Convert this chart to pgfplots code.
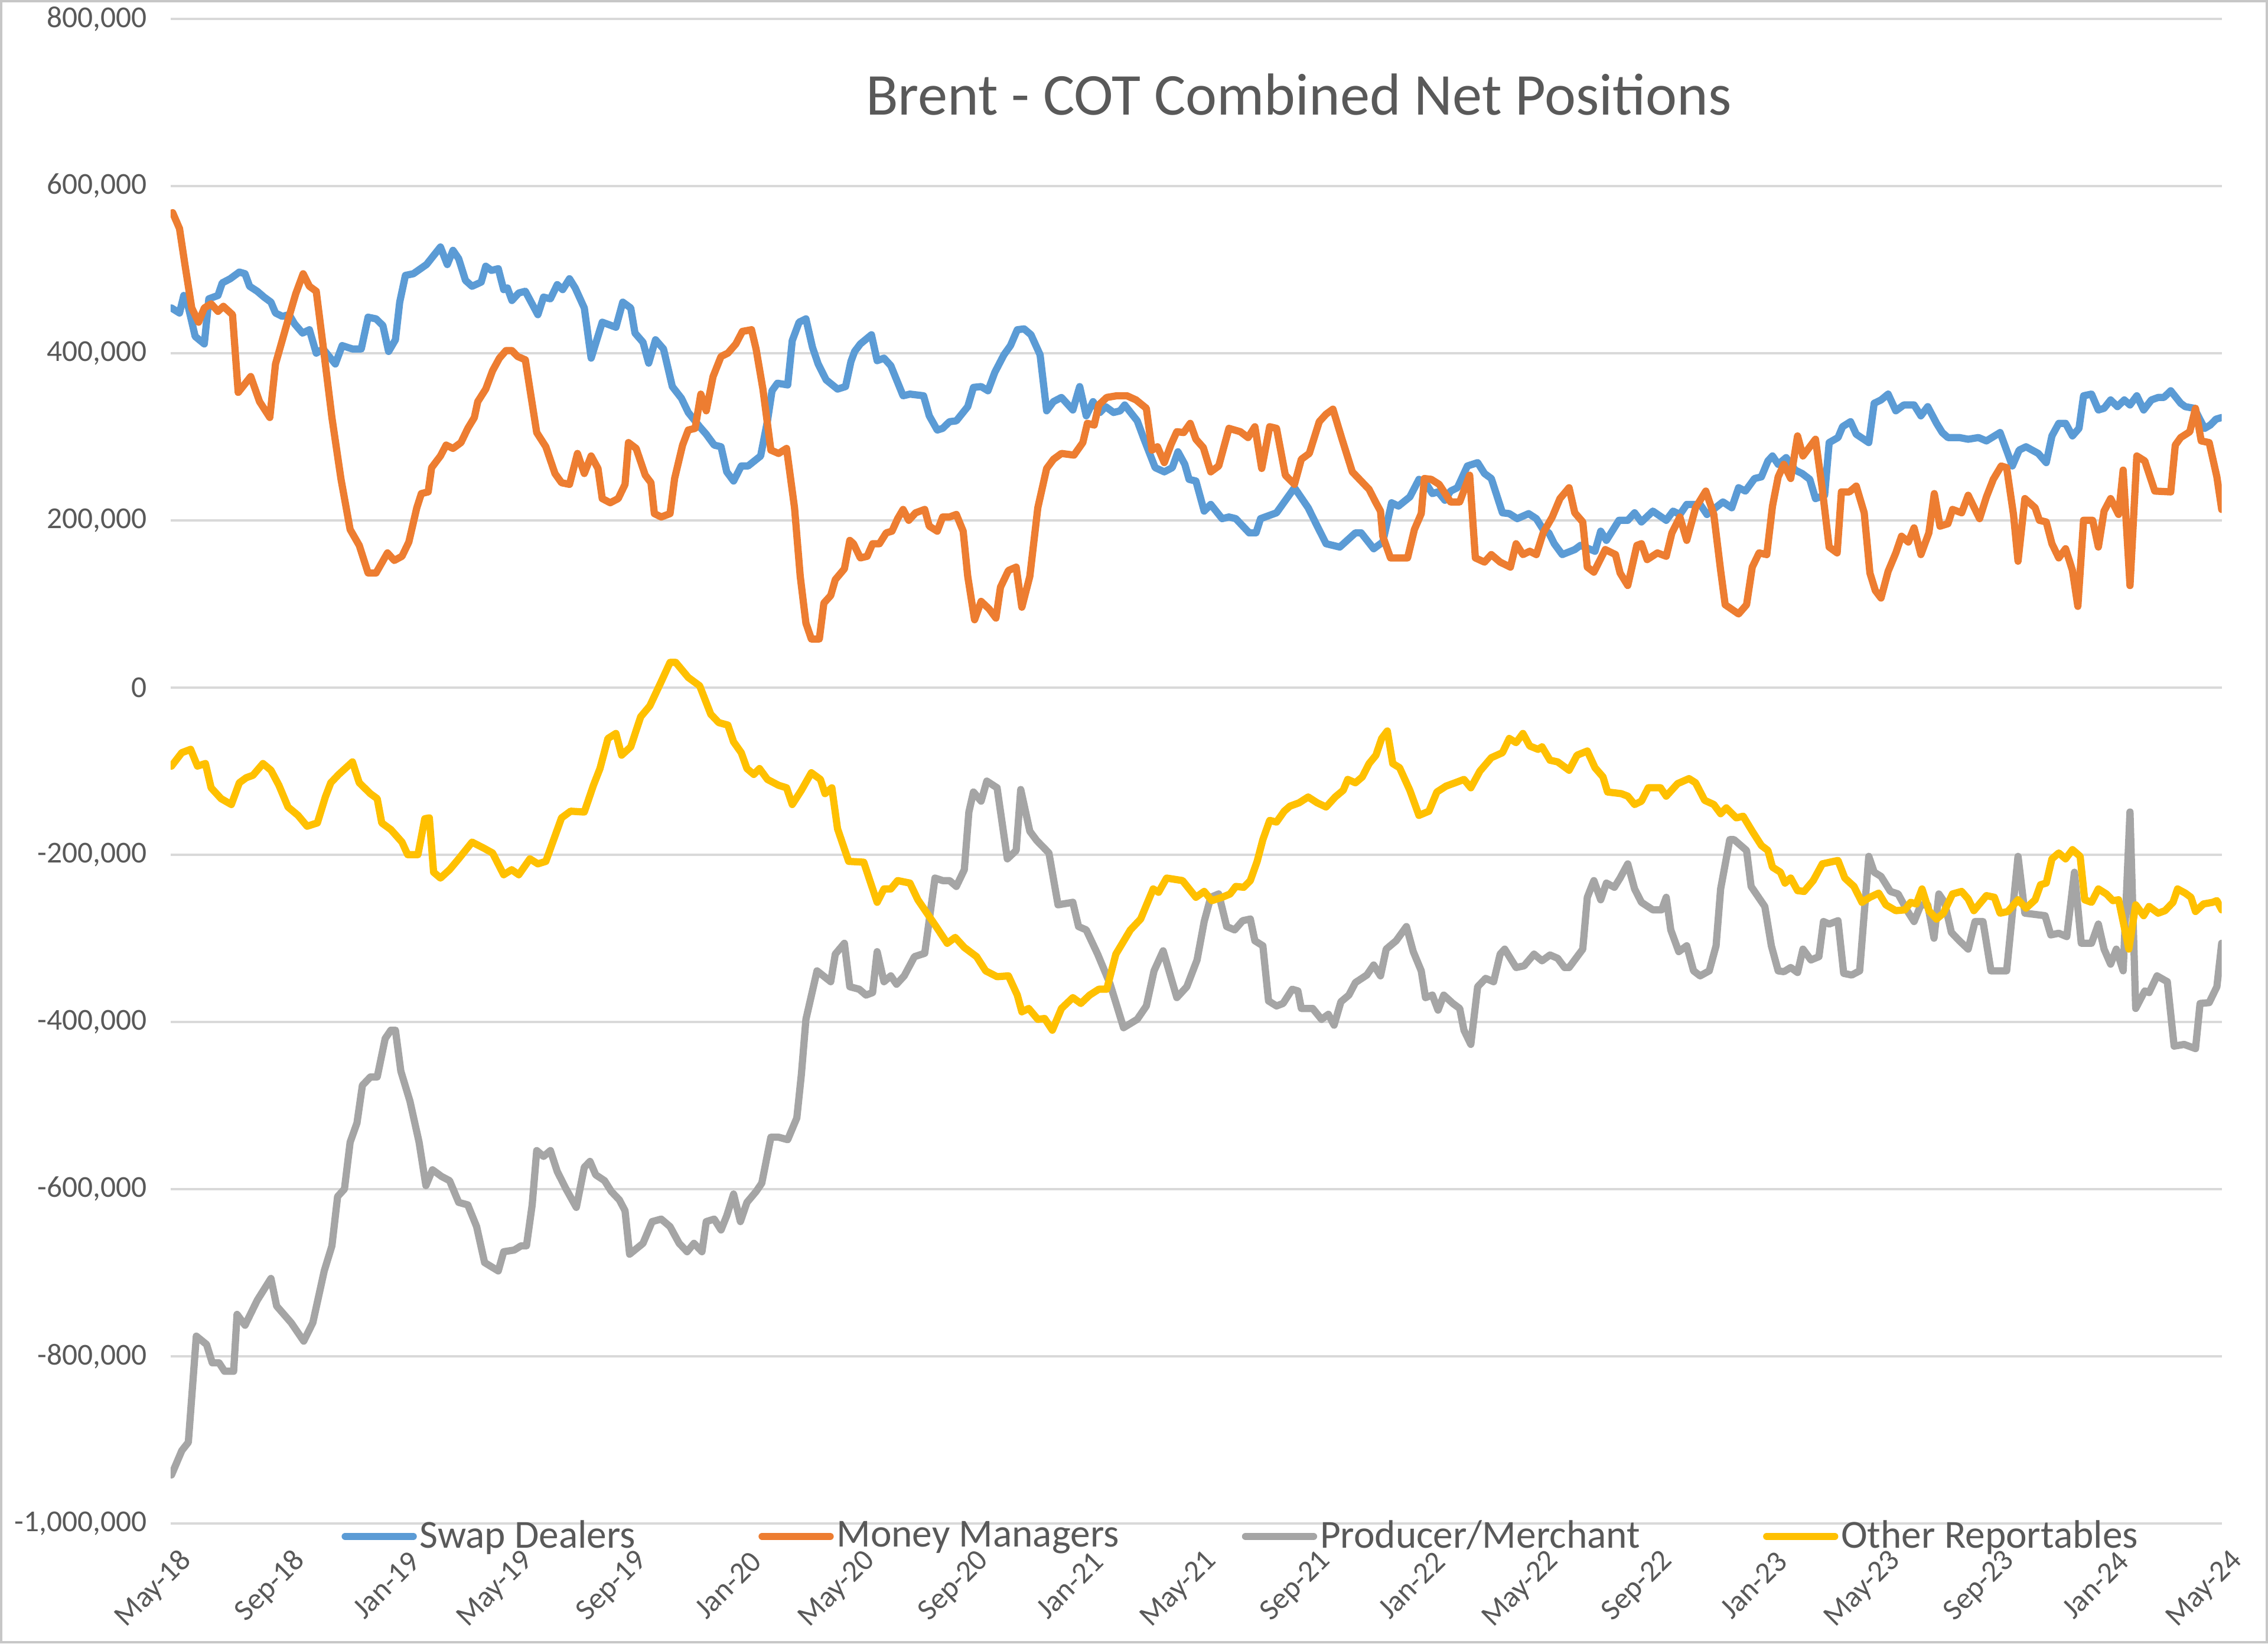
\documentclass[border=0pt]{standalone}
\usepackage{fontspec}
\setmainfont{Carlito}
\usepackage{pgfplots}
\pgfplotsset{compat=1.18}
\definecolor{swapc}{HTML}{5B9BD5}
\definecolor{mmc}{HTML}{ED7D31}
\definecolor{pmc}{HTML}{A5A5A5}
\definecolor{orc}{HTML}{FFC000}
\definecolor{txt}{HTML}{595959}
\definecolor{gridc}{HTML}{D9D9D9}
\begin{document}
\begin{tikzpicture}
\begin{axis}[
  at={(0,0)}, anchor=south west,
  scale only axis, width=709pt, height=520pt,
  xmin=0, xmax=72, ymin=-1000, ymax=800,
  axis line style={draw=none},
  tick style={draw=none}, major tick length=0pt,
  xtick={0,4,...,72},
  xticklabels={May-18,Sep-18,Jan-19,May-19,Sep-19,Jan-20,May-20,Sep-20,Jan-21,May-21,Sep-21,Jan-22,May-22,Sep-22,Jan-23,May-23,Sep-23,Jan-24,May-24},
  ytick={-1000,-800,...,800},
  yticklabels={{-1,000,000},{-800,000},{-600,000},{-400,000},{-200,000},{0},{200,000},{400,000},{600,000},{800,000}},
  ymajorgrids, major grid style={draw=gridc, line width=0.9pt},
  yticklabel style={font=\fontsize{10.5}{12}\selectfont, text=txt, anchor=east, inner sep=0pt, xshift=-8pt},
  xticklabel style={font=\fontsize{10.5}{12}\selectfont, text=txt, rotate=45, anchor=east, inner sep=0pt, yshift=-12pt, xshift=-4pt},
  title={Brent - COT Combined Net Positions},
  title style={at={(0.55,0.938)}, anchor=center, font=\fontsize{20.5}{24}\selectfont, text=txt},
  legend style={at={(0.522,0)}, anchor=center, yshift=-4.5pt, legend columns=4, draw=none, fill=none,
    font=\fontsize{13.75}{16}\selectfont, text=txt,
    /tikz/every even column/.append style={column sep=41.5pt}, nodes={inner sep=1pt}},
  legend image code/.code={\draw[#1, line width=2.5pt] (0pt,0pt) -- (23.5pt,0pt);},
  every axis plot/.append style={line width=2.5pt, line join=round, line cap=round, no markers},
]
\addplot[swapc] coordinates {
(0.03,454) (0.31,448) (0.46,469) (0.58,461) (0.86,420) (1.18,411) (1.34,465) (1.66,469) (1.81,484) (2.09,489)
(2.41,497) (2.61,495) (2.77,480) (3.04,474) (3.28,467) (3.52,461) (3.68,448) (3.92,444) (4.16,446) (4.35,435)
(4.63,424) (4.87,428) (5.11,400) (5.35,405) (5.78,387) (6.02,409) (6.38,405) (6.69,405) (6.93,443) (7.21,441)
(7.45,433) (7.65,402) (7.89,416) (8.04,461) (8.24,493) (8.52,495) (8.98,506) (9.47,527) (9.71,506) (9.91,523)
(10.11,513) (10.35,487) (10.58,480) (10.90,485) (11.06,504) (11.26,499) (11.50,501) (11.69,476) (11.82,478) (11.98,463)
(12.22,472) (12.45,474) (12.89,446) (13.09,467) (13.33,465) (13.57,482) (13.76,476) (14.00,489) (14.20,478) (14.52,454)
(14.76,394) (15.15,437) (15.63,431) (15.87,461) (16.15,454) (16.30,424) (16.58,413) (16.78,388) (17.02,416) (17.30,405)
(17.61,360) (17.93,346) (18.17,329) (18.57,312) (18.80,303) (19.08,290) (19.32,288) (19.52,258) (19.76,247) (20.03,265)
(20.27,265) (20.71,277) (20.95,319) (21.11,355) (21.30,364) (21.66,362) (21.82,415) (22.06,437) (22.30,441) (22.53,407)
(22.73,387) (23.01,368) (23.41,357) (23.69,360) (23.88,390) (24.01,402) (24.21,411) (24.60,422) (24.80,391) (25.04,394)
(25.28,385) (25.71,349) (25.95,351) (26.43,349) (26.63,325) (26.91,308) (27.10,310) (27.34,318) (27.58,319) (27.98,336)
(28.18,359) (28.45,360) (28.69,355) (28.93,377) (29.25,398) (29.48,409) (29.72,428) (29.96,429) (30.20,422) (30.52,398)
(30.75,331) (30.99,342) (31.27,347) (31.67,332) (31.91,360) (32.14,325) (32.38,342) (32.62,329) (32.82,336) (33.10,329)
(33.33,331) (33.49,338) (33.93,319) (34.17,297) (34.56,263) (34.88,258) (35.16,263) (35.36,282) (35.60,267) (35.75,249)
(35.99,247) (36.28,211) (36.51,219) (36.91,202) (37.15,204) (37.39,202) (37.86,185) (38.10,185) (38.26,202) (38.82,209)
(39.45,239) (39.93,215) (40.25,193) (40.56,172) (41.04,168) (41.59,185) (41.79,185) (42.23,166) (42.55,174) (42.86,221)
(43.10,217) (43.50,228) (43.82,249) (44.05,245) (44.29,232) (44.49,234) (44.73,224) (44.93,235) (45.17,239) (45.52,265)
(45.88,269) (46.12,256) (46.36,250) (46.75,209) (46.99,208) (47.27,202) (47.67,208) (47.94,202) (48.18,189) (48.38,185)
(48.57,172) (48.85,159) (49.29,165) (49.49,170) (50.00,163) (50.20,187) (50.40,176) (50.84,200) (51.15,200) (51.39,209)
(51.63,198) (52.03,211) (52.50,200) (52.74,211) (52.98,207) (53.22,219) (53.69,219) (53.93,207) (54.49,222) (54.80,215)
(55.04,239) (55.28,235) (55.60,250) (55.84,252) (56.07,271) (56.23,277) (56.43,267) (56.71,275) (57.03,260) (57.27,256)
(57.54,249) (57.74,226) (58.06,230) (58.22,293) (58.53,299) (58.69,312) (58.97,318) (59.17,303) (59.61,293) (59.80,340)
(60.04,344) (60.29,351) (60.56,331) (60.84,338) (61.20,338) (61.44,325) (61.68,336) (61.99,316) (62.19,305) (62.39,299)
(62.79,299) (63.10,297) (63.46,299) (63.74,295) (64.22,305) (64.65,265) (64.89,284) (65.13,288) (65.56,280) (65.84,269)
(66.04,301) (66.28,316) (66.52,316) (66.76,301) (66.99,310) (67.15,349) (67.43,351) (67.67,332) (67.87,334) (68.10,344)
(68.34,336) (68.58,344) (68.78,338) (69.02,349) (69.26,332) (69.53,344) (69.77,347) (69.97,347) (70.21,355) (70.56,340)
(70.72,336) (71.04,334) (71.20,323) (71.40,310) (71.60,314) (71.80,321) (72.00,323)
};
\addlegendentry{Swap Dealers}
\addplot[mmc] coordinates {
(0.07,568) (0.31,549) (0.50,506) (0.74,454) (0.98,437) (1.18,454) (1.42,459) (1.66,450) (1.85,456) (2.17,446)
(2.37,353) (2.81,372) (3.12,342) (3.48,323) (3.68,387) (4.08,435) (4.39,471) (4.65,495) (4.87,480) (5.11,474)
(5.35,409) (5.66,323) (5.98,249) (6.30,189) (6.62,170) (6.93,137) (7.21,137) (7.61,161) (7.85,152) (8.12,157)
(8.36,174) (8.64,215) (8.80,232) (9.04,234) (9.16,263) (9.47,277) (9.67,290) (9.91,286) (10.19,293) (10.43,310)
(10.66,323) (10.78,342) (11.06,357) (11.30,379) (11.54,394) (11.77,403) (11.98,403) (12.18,396) (12.45,392) (12.61,357)
(12.85,305) (13.17,288) (13.49,256) (13.72,245) (14.00,243) (14.28,280) (14.52,256) (14.76,277) (15.00,262) (15.15,226)
(15.43,221) (15.71,226) (15.95,243) (16.07,293) (16.34,286) (16.66,254) (16.86,245) (16.98,208) (17.22,204) (17.53,208)
(17.69,250) (17.97,290) (18.17,308) (18.41,310) (18.61,351) (18.80,331) (19.04,372) (19.32,396) (19.56,400) (19.84,411)
(20.07,426) (20.39,428) (20.55,405) (20.79,357) (21.07,284) (21.34,280) (21.62,286) (21.90,215) (22.10,133) (22.30,77)
(22.49,58) (22.77,58) (22.93,101) (23.17,110) (23.33,129) (23.65,142) (23.84,176) (23.97,172) (24.21,155) (24.45,157)
(24.64,172) (24.88,172) (25.12,185) (25.32,187) (25.52,202) (25.71,213) (25.91,200) (26.15,209) (26.47,213) (26.63,193)
(26.91,187) (27.10,204) (27.34,204) (27.58,207) (27.82,187) (27.98,133) (28.22,81) (28.45,103) (28.73,94) (28.97,83)
(29.13,120) (29.41,140) (29.68,144) (29.88,96) (30.16,133) (30.44,215) (30.75,262) (30.99,273) (31.27,280) (31.71,278)
(32.02,293) (32.18,316) (32.42,314) (32.58,338) (32.86,347) (33.21,349) (33.57,349) (33.89,344) (34.25,334) (34.45,284)
(34.64,288) (34.88,269) (35.12,291) (35.32,306) (35.56,305) (35.79,316) (35.99,297) (36.25,287) (36.51,258) (36.79,265)
(37.15,310) (37.55,306) (37.82,299) (38.06,312) (38.30,262) (38.58,312) (38.82,310) (39.13,254) (39.45,243) (39.69,273)
(39.97,280) (40.32,318) (40.56,327) (40.80,333) (41.12,297) (41.48,258) (42.07,237) (42.31,221) (42.47,211) (42.55,181)
(42.82,155) (43.42,155) (43.66,189) (43.90,208) (44.01,250) (44.25,249) (44.53,243) (44.93,222) (45.25,222) (45.60,254)
(45.80,155) (46.12,150) (46.36,159) (46.67,150) (47.03,144) (47.23,172) (47.47,159) (47.71,163) (47.94,159) (48.18,185)
(48.50,204) (48.77,226) (49.09,239) (49.29,209) (49.57,198) (49.73,144) (49.96,138) (50.36,165) (50.72,159) (50.88,137)
(51.15,122) (51.47,170) (51.63,172) (51.83,153) (52.19,161) (52.50,157) (52.70,185) (52.98,204) (53.22,176) (53.53,215)
(53.89,235) (54.17,207) (54.41,140) (54.57,99) (55.04,88) (55.32,99) (55.52,144) (55.76,161) (56.03,159) (56.23,217)
(56.43,252) (56.63,267) (56.87,250) (57.11,301) (57.30,277) (57.74,297) (57.98,237) (58.22,168) (58.50,161) (58.65,234)
(58.93,234) (59.17,241) (59.45,209) (59.65,137) (59.84,116) (60.04,107) (60.29,139) (60.56,161) (60.76,181) (61.00,174)
(61.20,191) (61.44,159) (61.72,185) (61.91,232) (62.11,193) (62.39,196) (62.55,213) (62.87,209) (63.10,230) (63.50,202)
(63.74,228) (63.98,249) (64.26,265) (64.45,263) (64.69,207) (64.85,151) (65.09,226) (65.45,215) (65.60,200) (65.84,198)
(66.04,172) (66.28,155) (66.52,166) (66.76,140) (66.95,97) (67.15,200) (67.47,200) (67.67,168) (67.87,211) (68.10,226)
(68.38,207) (68.54,260) (68.78,122) (69.02,277) (69.30,271) (69.65,235) (70.21,234) (70.37,290) (70.56,299) (70.88,306)
(71.08,334) (71.28,295) (71.56,293) (71.83,252) (72.00,213)
};
\addlegendentry{Money Managers}
\addplot[pmc] coordinates {
(0.03,-942) (0.39,-913) (0.62,-903) (0.90,-776) (1.26,-786) (1.46,-808) (1.70,-808) (1.89,-818) (2.21,-818) (2.33,-750)
(2.61,-763) (3.04,-733) (3.28,-720) (3.52,-707) (3.72,-740) (4.23,-760) (4.67,-782) (4.99,-760) (5.39,-698) (5.66,-668)
(5.86,-609) (6.10,-600) (6.30,-544) (6.54,-521) (6.73,-476) (7.01,-466) (7.25,-466) (7.53,-420) (7.73,-410) (7.89,-410)
(8.08,-459) (8.40,-495) (8.72,-544) (8.96,-596) (9.19,-577) (9.51,-585) (9.79,-590) (10.11,-616) (10.43,-619) (10.74,-645)
(11.02,-688) (11.50,-698) (11.69,-675) (12.06,-673) (12.30,-668) (12.49,-668) (12.69,-619) (12.85,-554) (13.09,-561) (13.33,-554)
(13.57,-579) (13.88,-600) (14.24,-622) (14.52,-574) (14.72,-567) (14.92,-583) (15.23,-590) (15.47,-603) (15.75,-613) (15.95,-626)
(16.11,-678) (16.58,-665) (16.90,-639) (17.22,-636) (17.53,-645) (17.85,-665) (18.13,-675) (18.37,-665) (18.65,-675) (18.80,-639)
(19.08,-636) (19.32,-649) (19.52,-632) (19.76,-606) (20.00,-639) (20.23,-616) (20.55,-603) (20.75,-593) (21.07,-538) (21.34,-538)
(21.66,-541) (21.98,-515) (22.14,-463) (22.30,-397) (22.69,-339) (23.17,-352) (23.33,-319) (23.65,-306) (23.84,-358) (24.17,-361)
(24.41,-368) (24.64,-365) (24.80,-316) (25.04,-352) (25.28,-345) (25.48,-355) (25.75,-345) (26.11,-322) (26.47,-318) (26.83,-228)
(27.10,-231) (27.34,-231) (27.58,-238) (27.86,-218) (28.02,-149) (28.18,-125) (28.45,-136) (28.65,-112) (29.01,-120) (29.37,-205)
(29.68,-195) (29.84,-122) (30.16,-172) (30.40,-183) (30.83,-198) (31.15,-260) (31.67,-257) (31.87,-286) (32.14,-290) (32.54,-319)
(32.98,-355) (33.45,-407) (33.93,-397) (34.25,-381) (34.52,-339) (34.84,-315) (35.32,-371) (35.67,-358) (36.03,-326) (36.28,-280)
(36.51,-251) (36.79,-247) (37.07,-286) (37.35,-290) (37.63,-279) (37.90,-277) (38.06,-303) (38.34,-309) (38.54,-375) (38.82,-381)
(39.05,-378) (39.37,-361) (39.57,-363) (39.69,-384) (40.09,-384) (40.40,-397) (40.64,-391) (40.84,-404) (41.08,-376) (41.36,-368)
(41.59,-353) (41.99,-344) (42.23,-332) (42.47,-345) (42.67,-313) (43.02,-303) (43.38,-286) (43.62,-316) (43.90,-339) (44.05,-371)
(44.29,-368) (44.49,-386) (44.69,-368) (45.01,-378) (45.25,-384) (45.40,-410) (45.64,-427) (45.88,-358) (46.16,-348) (46.44,-352)
(46.67,-319) (46.83,-313) (47.23,-335) (47.51,-333) (47.86,-319) (48.14,-327) (48.42,-320) (48.69,-324) (48.93,-335) (49.09,-335)
(49.57,-313) (49.73,-251) (49.96,-231) (50.20,-254) (50.40,-234) (50.68,-239) (50.88,-228) (51.15,-211) (51.39,-241) (51.63,-257)
(52.03,-266) (52.34,-266) (52.50,-251) (52.66,-290) (52.94,-316) (53.22,-309) (53.46,-339) (53.69,-345) (54.01,-339) (54.25,-309)
(54.41,-241) (54.73,-182) (54.88,-182) (55.32,-195) (55.48,-238) (55.96,-262) (56.19,-309) (56.43,-339) (56.63,-340) (56.87,-335)
(57.11,-341) (57.30,-313) (57.58,-326) (57.86,-322) (58.02,-280) (58.22,-283) (58.53,-279) (58.73,-342) (59.01,-344) (59.29,-339)
(59.61,-202) (59.80,-221) (60.04,-226) (60.37,-244) (60.64,-247) (60.96,-267) (61.20,-280) (61.44,-260) (61.68,-260) (61.90,-300)
(62.07,-247) (62.27,-257) (62.51,-293) (62.79,-303) (63.10,-313) (63.34,-280) (63.62,-280) (63.90,-339) (64.45,-339) (64.85,-202)
(65.09,-270) (65.80,-273) (66.00,-296) (66.28,-294) (66.56,-298) (66.83,-221) (67.07,-306) (67.43,-306) (67.67,-283) (67.87,-313)
(68.10,-331) (68.30,-313) (68.54,-339) (68.78,-149) (68.98,-384) (69.30,-363) (69.45,-365) (69.73,-345) (70.09,-352) (70.33,-429)
(70.68,-427) (71.08,-432) (71.24,-378) (71.56,-377) (71.83,-358) (72.00,-306)
};
\addlegendentry{Producer/Merchant}
\addplot[orc] coordinates {
(0.03,-94) (0.39,-78) (0.70,-74) (0.94,-94) (1.22,-91) (1.42,-120) (1.77,-133) (2.13,-140) (2.41,-114) (2.65,-108)
(2.89,-105) (3.24,-91) (3.52,-99) (3.80,-117) (4.12,-143) (4.47,-153) (4.79,-166) (5.15,-162) (5.43,-131) (5.62,-114)
(5.90,-104) (6.38,-89) (6.62,-114) (7.01,-127) (7.25,-133) (7.41,-162) (7.73,-170) (8.12,-185) (8.32,-200) (8.68,-200)
(8.92,-157) (9.08,-156) (9.23,-221) (9.47,-228) (9.79,-218) (10.11,-205) (10.58,-185) (10.98,-192) (11.30,-198) (11.69,-224)
(11.97,-218) (12.22,-224) (12.61,-205) (12.89,-211) (13.17,-208) (13.72,-156) (14.04,-148) (14.52,-149) (14.84,-117) (15.07,-97)
(15.35,-61) (15.63,-55) (15.83,-81) (16.15,-71) (16.50,-35) (16.82,-22) (17.22,7) (17.53,30) (17.73,30) (18.17,12)
(18.57,2) (18.96,-32) (19.24,-42) (19.56,-45) (19.76,-65) (20.03,-78) (20.23,-97) (20.47,-104) (20.67,-97) (20.95,-110)
(21.34,-117) (21.62,-120) (21.82,-140) (22.14,-123) (22.49,-102) (22.81,-110) (22.97,-127) (23.21,-120) (23.41,-169) (23.80,-208)
(24.33,-209) (24.80,-257) (25.04,-241) (25.28,-241) (25.52,-231) (25.95,-234) (26.23,-254) (26.55,-270) (26.87,-286) (27.26,-306)
(27.54,-299) (27.86,-311) (28.29,-322) (28.61,-339) (29.01,-346) (29.41,-345) (29.72,-368) (29.88,-388) (30.12,-384) (30.44,-397)
(30.68,-396) (30.95,-410) (31.27,-384) (31.67,-371) (31.95,-378) (32.26,-368) (32.58,-361) (32.86,-361) (33.18,-319) (33.69,-290)
(34.05,-277) (34.33,-254) (34.49,-241) (34.68,-245) (34.96,-228) (35.52,-231) (35.99,-251) (36.28,-244) (36.55,-255) (36.91,-251)
(37.19,-247) (37.39,-238) (37.67,-239) (37.90,-231) (38.14,-208) (38.34,-182) (38.58,-159) (38.82,-161) (39.09,-148) (39.29,-142)
(39.61,-138) (39.93,-131) (40.25,-138) (40.56,-143) (40.88,-131) (41.16,-123) (41.32,-110) (41.59,-114) (41.83,-107) (42.07,-91)
(42.31,-81) (42.51,-61) (42.71,-52) (42.90,-91) (43.14,-96) (43.50,-123) (43.82,-153) (44.17,-148) (44.45,-125) (44.77,-118)
(45.09,-114) (45.40,-110) (45.64,-120) (45.96,-100) (46.36,-84) (46.75,-78) (46.99,-61) (47.23,-66) (47.47,-55) (47.71,-70)
(48.00,-74) (48.14,-71) (48.42,-87) (48.69,-89) (49.09,-99) (49.37,-81) (49.73,-76) (50.00,-96) (50.28,-107) (50.44,-125)
(50.92,-127) (51.15,-130) (51.39,-140) (51.63,-136) (51.87,-120) (52.30,-120) (52.50,-130) (52.90,-115) (53.30,-109) (53.53,-114)
(53.85,-135) (54.17,-140) (54.41,-151) (54.61,-144) (54.96,-156) (55.20,-154) (55.52,-172) (55.84,-189) (56.07,-195) (56.23,-215)
(56.51,-221) (56.67,-234) (56.87,-228) (57.11,-243) (57.34,-244) (57.66,-231) (57.98,-211) (58.38,-208) (58.53,-207) (58.77,-228)
(59.09,-238) (59.37,-257) (59.65,-251) (59.96,-246) (60.21,-260) (60.56,-267) (60.88,-266) (61.08,-257) (61.28,-259) (61.48,-241)
(61.72,-267) (61.99,-277) (62.23,-270) (62.55,-247) (62.87,-244) (63.10,-253) (63.30,-267) (63.74,-249) (64.02,-251) (64.22,-270)
(64.49,-268) (64.85,-254) (65.13,-264) (65.45,-254) (65.64,-236) (65.84,-234) (66.04,-205) (66.28,-198) (66.52,-205) (66.76,-194)
(67.03,-202) (67.19,-254) (67.43,-257) (67.67,-241) (67.95,-247) (68.18,-255) (68.38,-254) (68.74,-313) (68.98,-260) (69.26,-273)
(69.45,-262) (69.77,-270) (70.01,-267) (70.29,-257) (70.45,-241) (70.72,-246) (70.92,-251) (71.08,-268) (71.36,-259) (71.68,-257)
(71.83,-255) (72.00,-266)
};
\addlegendentry{Other Reportables}
\end{axis}
\draw[line width=0.75pt, draw=gridc!80!gray] (-58.625pt,-41.125pt) rectangle (724.625pt,526.125pt);
\end{tikzpicture}
\end{document}
